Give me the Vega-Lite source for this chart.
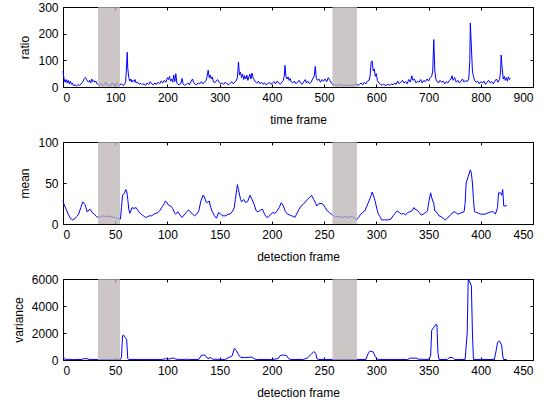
{
  "$schema": "https://vega.github.io/schema/vega-lite/v6.json",
  "padding": {"left": 11, "top": 0, "right": 5, "bottom": 2},
  "background": "white",
  "spacing": 9,
  "config": {
    "view": {"stroke": "black", "strokeWidth": 1},
    "axis": {
      "grid": false, "domain": false, "tickColor": "black", "tickSize": -3,
      "labelFont": "Liberation Sans", "labelFontSize": 12, "labelColor": "black",
      "titleFont": "Liberation Sans", "titleFontSize": 12, "titleFontWeight": "normal", "titleColor": "black",
      "labelPadding": 8, "titlePadding": 6
    },
    "axisBottom": {"titlePadding": 11}
  },
  "datasets": {
    "ratio": [
      {"frame":0,"value":60},{"frame":2,"value":30},{"frame":4,"value":18},{"frame":6,"value":28},{"frame":8,"value":15},{"frame":10,"value":25},{"frame":12,"value":12},{"frame":14,"value":22},{"frame":16,"value":10},{"frame":18,"value":15},{"frame":20,"value":5},{"frame":23,"value":8},{"frame":26,"value":4},{"frame":29,"value":9},{"frame":32,"value":6},{"frame":35,"value":12},{"frame":38,"value":20},{"frame":41,"value":32},{"frame":43,"value":36},{"frame":45,"value":28},{"frame":47,"value":22},{"frame":49,"value":18},{"frame":51,"value":25},{"frame":53,"value":15},{"frame":55,"value":30},{"frame":57,"value":20},{"frame":59,"value":24},{"frame":61,"value":18},{"frame":63,"value":22},{"frame":65,"value":12},{"frame":67,"value":10},{"frame":70,"value":6},{"frame":73,"value":14},{"frame":76,"value":5},{"frame":79,"value":8},{"frame":82,"value":18},{"frame":85,"value":6},{"frame":88,"value":9},{"frame":91,"value":4},{"frame":94,"value":16},{"frame":97,"value":7},{"frame":100,"value":10},{"frame":103,"value":17},{"frame":106,"value":5},{"frame":109,"value":8},{"frame":112,"value":12},{"frame":115,"value":5},{"frame":118,"value":10},{"frame":120,"value":20},{"frame":122,"value":90},{"frame":123,"value":130},{"frame":124,"value":70},{"frame":126,"value":35},{"frame":128,"value":22},{"frame":130,"value":30},{"frame":132,"value":18},{"frame":134,"value":25},{"frame":136,"value":20},{"frame":138,"value":28},{"frame":140,"value":15},{"frame":143,"value":18},{"frame":146,"value":10},{"frame":149,"value":14},{"frame":152,"value":8},{"frame":155,"value":12},{"frame":158,"value":6},{"frame":161,"value":15},{"frame":164,"value":9},{"frame":167,"value":20},{"frame":170,"value":12},{"frame":173,"value":8},{"frame":176,"value":15},{"frame":179,"value":10},{"frame":182,"value":18},{"frame":185,"value":12},{"frame":188,"value":22},{"frame":191,"value":15},{"frame":194,"value":25},{"frame":197,"value":18},{"frame":200,"value":35},{"frame":202,"value":28},{"frame":204,"value":40},{"frame":206,"value":22},{"frame":208,"value":30},{"frame":210,"value":18},{"frame":212,"value":45},{"frame":214,"value":20},{"frame":216,"value":50},{"frame":218,"value":15},{"frame":220,"value":10},{"frame":223,"value":8},{"frame":226,"value":15},{"frame":228,"value":32},{"frame":230,"value":12},{"frame":233,"value":6},{"frame":236,"value":10},{"frame":239,"value":15},{"frame":242,"value":8},{"frame":245,"value":20},{"frame":248,"value":30},{"frame":250,"value":18},{"frame":253,"value":10},{"frame":256,"value":8},{"frame":259,"value":15},{"frame":262,"value":12},{"frame":265,"value":20},{"frame":268,"value":12},{"frame":271,"value":18},{"frame":274,"value":25},{"frame":276,"value":40},{"frame":278,"value":63},{"frame":280,"value":35},{"frame":282,"value":45},{"frame":284,"value":30},{"frame":286,"value":38},{"frame":288,"value":20},{"frame":290,"value":15},{"frame":293,"value":22},{"frame":296,"value":28},{"frame":299,"value":18},{"frame":302,"value":12},{"frame":305,"value":15},{"frame":308,"value":10},{"frame":311,"value":18},{"frame":314,"value":12},{"frame":317,"value":8},{"frame":320,"value":14},{"frame":323,"value":20},{"frame":326,"value":12},{"frame":329,"value":18},{"frame":332,"value":25},{"frame":334,"value":35},{"frame":336,"value":94},{"frame":338,"value":45},{"frame":340,"value":55},{"frame":342,"value":35},{"frame":344,"value":48},{"frame":346,"value":28},{"frame":348,"value":42},{"frame":350,"value":30},{"frame":352,"value":45},{"frame":354,"value":25},{"frame":356,"value":38},{"frame":358,"value":48},{"frame":360,"value":30},{"frame":362,"value":52},{"frame":364,"value":35},{"frame":366,"value":28},{"frame":368,"value":20},{"frame":371,"value":15},{"frame":374,"value":22},{"frame":377,"value":12},{"frame":380,"value":18},{"frame":383,"value":10},{"frame":386,"value":15},{"frame":389,"value":8},{"frame":392,"value":12},{"frame":395,"value":18},{"frame":398,"value":10},{"frame":401,"value":14},{"frame":404,"value":20},{"frame":407,"value":12},{"frame":410,"value":22},{"frame":413,"value":15},{"frame":416,"value":10},{"frame":419,"value":18},{"frame":422,"value":25},{"frame":424,"value":45},{"frame":425,"value":81},{"frame":427,"value":40},{"frame":429,"value":30},{"frame":431,"value":38},{"frame":433,"value":25},{"frame":435,"value":32},{"frame":437,"value":20},{"frame":440,"value":15},{"frame":443,"value":22},{"frame":446,"value":12},{"frame":449,"value":18},{"frame":452,"value":25},{"frame":455,"value":15},{"frame":458,"value":10},{"frame":461,"value":20},{"frame":464,"value":28},{"frame":466,"value":15},{"frame":469,"value":22},{"frame":472,"value":12},{"frame":475,"value":18},{"frame":478,"value":30},{"frame":481,"value":40},{"frame":483,"value":77},{"frame":485,"value":35},{"frame":487,"value":25},{"frame":490,"value":30},{"frame":493,"value":18},{"frame":496,"value":28},{"frame":499,"value":22},{"frame":502,"value":30},{"frame":505,"value":20},{"frame":508,"value":35},{"frame":511,"value":25},{"frame":514,"value":15},{"frame":517,"value":8},{"frame":520,"value":10},{"frame":523,"value":5},{"frame":526,"value":8},{"frame":529,"value":6},{"frame":532,"value":10},{"frame":535,"value":5},{"frame":538,"value":8},{"frame":541,"value":6},{"frame":544,"value":9},{"frame":547,"value":5},{"frame":550,"value":7},{"frame":553,"value":5},{"frame":556,"value":8},{"frame":559,"value":10},{"frame":562,"value":12},{"frame":565,"value":5},{"frame":568,"value":10},{"frame":571,"value":15},{"frame":574,"value":8},{"frame":577,"value":18},{"frame":580,"value":12},{"frame":583,"value":22},{"frame":586,"value":25},{"frame":588,"value":40},{"frame":590,"value":92},{"frame":592,"value":98},{"frame":594,"value":60},{"frame":596,"value":68},{"frame":598,"value":40},{"frame":600,"value":50},{"frame":602,"value":24},{"frame":605,"value":15},{"frame":608,"value":10},{"frame":611,"value":6},{"frame":614,"value":12},{"frame":617,"value":5},{"frame":620,"value":8},{"frame":623,"value":10},{"frame":626,"value":6},{"frame":629,"value":12},{"frame":632,"value":8},{"frame":635,"value":15},{"frame":638,"value":10},{"frame":641,"value":22},{"frame":644,"value":12},{"frame":647,"value":18},{"frame":650,"value":25},{"frame":653,"value":15},{"frame":656,"value":20},{"frame":659,"value":12},{"frame":662,"value":28},{"frame":665,"value":18},{"frame":668,"value":42},{"frame":670,"value":25},{"frame":673,"value":30},{"frame":676,"value":15},{"frame":679,"value":22},{"frame":682,"value":18},{"frame":685,"value":28},{"frame":688,"value":15},{"frame":691,"value":25},{"frame":694,"value":20},{"frame":697,"value":30},{"frame":700,"value":22},{"frame":703,"value":35},{"frame":706,"value":40},{"frame":708,"value":60},{"frame":710,"value":178},{"frame":712,"value":60},{"frame":714,"value":30},{"frame":716,"value":22},{"frame":719,"value":15},{"frame":722,"value":25},{"frame":725,"value":18},{"frame":728,"value":22},{"frame":731,"value":12},{"frame":734,"value":20},{"frame":737,"value":15},{"frame":740,"value":25},{"frame":743,"value":30},{"frame":745,"value":42},{"frame":747,"value":25},{"frame":750,"value":35},{"frame":753,"value":18},{"frame":756,"value":25},{"frame":759,"value":15},{"frame":762,"value":22},{"frame":765,"value":30},{"frame":768,"value":18},{"frame":771,"value":25},{"frame":774,"value":20},{"frame":777,"value":30},{"frame":779,"value":100},{"frame":780,"value":240},{"frame":782,"value":150},{"frame":784,"value":60},{"frame":786,"value":40},{"frame":788,"value":25},{"frame":791,"value":18},{"frame":794,"value":22},{"frame":797,"value":12},{"frame":800,"value":20},{"frame":803,"value":15},{"frame":806,"value":22},{"frame":809,"value":10},{"frame":812,"value":18},{"frame":815,"value":25},{"frame":818,"value":15},{"frame":821,"value":20},{"frame":824,"value":12},{"frame":827,"value":22},{"frame":830,"value":30},{"frame":833,"value":18},{"frame":836,"value":28},{"frame":838,"value":60},{"frame":839,"value":120},{"frame":841,"value":70},{"frame":843,"value":30},{"frame":845,"value":40},{"frame":847,"value":25},{"frame":849,"value":35},{"frame":851,"value":22},{"frame":853,"value":38},{"frame":855,"value":28},{"frame":857,"value":32}
    ],
    "mean": [
      {"frame":0,"value":28},{"frame":1,"value":24},{"frame":3,"value":18},{"frame":5,"value":12},{"frame":7,"value":7},{"frame":9,"value":5},{"frame":11,"value":6},{"frame":13,"value":9},{"frame":15,"value":12},{"frame":17,"value":20},{"frame":19,"value":27},{"frame":21,"value":24},{"frame":22,"value":20},{"frame":23,"value":15},{"frame":25,"value":17},{"frame":26,"value":18},{"frame":28,"value":14},{"frame":30,"value":12},{"frame":32,"value":9},{"frame":34,"value":8},{"frame":36,"value":9},{"frame":38,"value":10},{"frame":40,"value":9},{"frame":42,"value":10},{"frame":44,"value":9},{"frame":46,"value":9},{"frame":48,"value":8},{"frame":50,"value":8},{"frame":52,"value":7},{"frame":54,"value":6},{"frame":55,"value":6},{"frame":56,"value":20},{"frame":57,"value":35},{"frame":59,"value":38},{"frame":60,"value":42},{"frame":61,"value":40},{"frame":62,"value":30},{"frame":63,"value":18},{"frame":64,"value":13},{"frame":65,"value":16},{"frame":66,"value":20},{"frame":68,"value":19},{"frame":70,"value":20},{"frame":71,"value":18},{"frame":73,"value":14},{"frame":75,"value":12},{"frame":77,"value":10},{"frame":79,"value":8},{"frame":81,"value":9},{"frame":83,"value":10},{"frame":85,"value":10},{"frame":87,"value":12},{"frame":89,"value":13},{"frame":91,"value":14},{"frame":93,"value":17},{"frame":95,"value":21},{"frame":97,"value":25},{"frame":98,"value":28},{"frame":99,"value":27},{"frame":101,"value":23},{"frame":103,"value":22},{"frame":105,"value":19},{"frame":107,"value":13},{"frame":108,"value":12},{"frame":110,"value":15},{"frame":112,"value":11},{"frame":114,"value":8},{"frame":116,"value":11},{"frame":118,"value":14},{"frame":120,"value":17},{"frame":122,"value":15},{"frame":124,"value":12},{"frame":126,"value":10},{"frame":128,"value":12},{"frame":130,"value":16},{"frame":132,"value":28},{"frame":134,"value":35},{"frame":135,"value":34},{"frame":137,"value":27},{"frame":138,"value":26},{"frame":140,"value":28},{"frame":141,"value":22},{"frame":143,"value":15},{"frame":145,"value":10},{"frame":147,"value":7},{"frame":149,"value":14},{"frame":151,"value":12},{"frame":153,"value":10},{"frame":156,"value":10},{"frame":158,"value":12},{"frame":160,"value":12},{"frame":162,"value":15},{"frame":164,"value":20},{"frame":165,"value":30},{"frame":167,"value":48},{"frame":168,"value":42},{"frame":170,"value":30},{"frame":171,"value":27},{"frame":173,"value":30},{"frame":175,"value":26},{"frame":177,"value":28},{"frame":179,"value":35},{"frame":181,"value":30},{"frame":183,"value":24},{"frame":185,"value":16},{"frame":187,"value":15},{"frame":189,"value":17},{"frame":191,"value":18},{"frame":193,"value":12},{"frame":195,"value":8},{"frame":197,"value":9},{"frame":199,"value":12},{"frame":201,"value":14},{"frame":203,"value":13},{"frame":205,"value":16},{"frame":207,"value":20},{"frame":209,"value":26},{"frame":211,"value":22},{"frame":213,"value":15},{"frame":215,"value":12},{"frame":217,"value":11},{"frame":219,"value":10},{"frame":221,"value":9},{"frame":222,"value":8},{"frame":224,"value":13},{"frame":226,"value":18},{"frame":228,"value":22},{"frame":230,"value":24},{"frame":232,"value":27},{"frame":234,"value":30},{"frame":236,"value":32},{"frame":238,"value":35},{"frame":240,"value":30},{"frame":242,"value":25},{"frame":243,"value":22},{"frame":245,"value":25},{"frame":247,"value":25},{"frame":249,"value":24},{"frame":251,"value":20},{"frame":253,"value":16},{"frame":255,"value":14},{"frame":257,"value":12},{"frame":259,"value":10},{"frame":261,"value":9},{"frame":264,"value":9},{"frame":267,"value":8},{"frame":270,"value":9},{"frame":273,"value":8},{"frame":276,"value":9},{"frame":279,"value":8},{"frame":281,"value":5},{"frame":283,"value":8},{"frame":285,"value":12},{"frame":287,"value":14},{"frame":289,"value":16},{"frame":291,"value":22},{"frame":293,"value":28},{"frame":295,"value":35},{"frame":296,"value":39},{"frame":298,"value":32},{"frame":299,"value":27},{"frame":301,"value":16},{"frame":302,"value":12},{"frame":304,"value":8},{"frame":305,"value":5},{"frame":308,"value":5},{"frame":311,"value":5},{"frame":314,"value":6},{"frame":316,"value":10},{"frame":318,"value":13},{"frame":320,"value":16},{"frame":322,"value":14},{"frame":324,"value":12},{"frame":326,"value":13},{"frame":328,"value":11},{"frame":330,"value":14},{"frame":332,"value":15},{"frame":334,"value":16},{"frame":336,"value":20},{"frame":337,"value":18},{"frame":339,"value":17},{"frame":341,"value":14},{"frame":343,"value":11},{"frame":345,"value":12},{"frame":347,"value":14},{"frame":349,"value":16},{"frame":350,"value":25},{"frame":352,"value":38},{"frame":353,"value":32},{"frame":355,"value":25},{"frame":356,"value":16},{"frame":358,"value":14},{"frame":360,"value":10},{"frame":362,"value":9},{"frame":364,"value":7},{"frame":366,"value":5},{"frame":368,"value":7},{"frame":370,"value":10},{"frame":372,"value":12},{"frame":374,"value":15},{"frame":376,"value":14},{"frame":378,"value":12},{"frame":380,"value":13},{"frame":382,"value":14},{"frame":384,"value":15},{"frame":385,"value":25},{"frame":386,"value":50},{"frame":388,"value":58},{"frame":390,"value":66},{"frame":391,"value":62},{"frame":392,"value":50},{"frame":393,"value":30},{"frame":394,"value":15},{"frame":396,"value":14},{"frame":398,"value":13},{"frame":400,"value":12},{"frame":402,"value":12},{"frame":404,"value":12},{"frame":406,"value":13},{"frame":408,"value":14},{"frame":410,"value":15},{"frame":412,"value":15},{"frame":414,"value":12},{"frame":416,"value":20},{"frame":417,"value":38},{"frame":419,"value":38},{"frame":420,"value":35},{"frame":421,"value":42},{"frame":422,"value":22},{"frame":424,"value":22},{"frame":425,"value":23}
    ],
    "variance": [
      {"frame":0,"value":400},{"frame":1,"value":100},{"frame":2,"value":50},{"frame":10,"value":40},{"frame":18,"value":40},{"frame":20,"value":100},{"frame":23,"value":100},{"frame":25,"value":40},{"frame":34,"value":40},{"frame":55,"value":40},{"frame":56,"value":200},{"frame":57,"value":1800},{"frame":58,"value":1850},{"frame":59,"value":1700},{"frame":60,"value":1650},{"frame":61,"value":1500},{"frame":62,"value":100},{"frame":63,"value":40},{"frame":95,"value":40},{"frame":98,"value":100},{"frame":100,"value":60},{"frame":104,"value":120},{"frame":106,"value":150},{"frame":108,"value":60},{"frame":115,"value":40},{"frame":118,"value":60},{"frame":121,"value":40},{"frame":130,"value":40},{"frame":132,"value":300},{"frame":134,"value":370},{"frame":136,"value":350},{"frame":138,"value":150},{"frame":140,"value":100},{"frame":141,"value":220},{"frame":143,"value":60},{"frame":155,"value":40},{"frame":162,"value":300},{"frame":164,"value":860},{"frame":166,"value":700},{"frame":168,"value":400},{"frame":170,"value":200},{"frame":174,"value":180},{"frame":178,"value":200},{"frame":181,"value":220},{"frame":183,"value":100},{"frame":185,"value":40},{"frame":200,"value":40},{"frame":206,"value":100},{"frame":208,"value":330},{"frame":211,"value":370},{"frame":214,"value":330},{"frame":216,"value":100},{"frame":218,"value":40},{"frame":230,"value":40},{"frame":234,"value":150},{"frame":238,"value":450},{"frame":240,"value":620},{"frame":242,"value":500},{"frame":243,"value":100},{"frame":245,"value":40},{"frame":290,"value":40},{"frame":292,"value":450},{"frame":294,"value":670},{"frame":297,"value":600},{"frame":299,"value":250},{"frame":301,"value":60},{"frame":303,"value":40},{"frame":330,"value":40},{"frame":333,"value":150},{"frame":336,"value":130},{"frame":338,"value":150},{"frame":340,"value":60},{"frame":350,"value":40},{"frame":352,"value":300},{"frame":353,"value":2200},{"frame":355,"value":2420},{"frame":357,"value":2640},{"frame":358,"value":2600},{"frame":359,"value":500},{"frame":360,"value":40},{"frame":368,"value":40},{"frame":370,"value":200},{"frame":373,"value":180},{"frame":375,"value":40},{"frame":385,"value":40},{"frame":387,"value":2000},{"frame":388,"value":6000},{"frame":389,"value":5850},{"frame":390,"value":5700},{"frame":391,"value":5500},{"frame":392,"value":2000},{"frame":393,"value":40},{"frame":413,"value":40},{"frame":415,"value":800},{"frame":416,"value":1300},{"frame":418,"value":1400},{"frame":420,"value":1100},{"frame":421,"value":300},{"frame":422,"value":40},{"frame":425,"value":40}
    ],
    "shadeT": [{"start":67,"end":109,"lo":0,"hi":300},{"start":516,"end":563,"lo":0,"hi":300}],
    "shadeM": [{"start":33.5,"end":54.6,"lo":0,"hi":100},{"start":258,"end":281.5,"lo":0,"hi":100}],
    "shadeV": [{"start":33.5,"end":54.6,"lo":0,"hi":6000},{"start":258,"end":281.5,"lo":0,"hi":6000}]
  },
  "vconcat": [
    {
      "width": 470, "height": 80,
      "resolve": {"axis": {"x": "independent", "y": "independent"}},
      "layer": [
        {
          "data": {"name": "ratio"},
          "mark": {"type": "line", "color": "#0000ff", "strokeWidth": 1},
          "encoding": {
            "x": {"field": "frame", "type": "quantitative", "scale": {"domain": [0, 900], "nice": false}, "axis": {"title": "time frame", "values": [0,100,200,300,400,500,600,700,800,900]}},
            "y": {"field": "value", "type": "quantitative", "scale": {"domain": [0, 300], "nice": false}, "axis": {"title": "ratio", "values": [0,100,200,300]}}
          }
        },
        {
          "data": {"name": "shadeT"},
          "mark": {"type": "rect", "color": "#bbb3b3", "opacity": 0.75},
          "encoding": {
            "x": {"field": "start", "type": "quantitative", "axis": {"orient": "top", "labels": false, "title": null, "values": [0,100,200,300,400,500,600,700,800,900]}},
            "x2": {"field": "end"},
            "y": {"field": "lo", "type": "quantitative", "axis": {"orient": "right", "labels": false, "title": null, "values": [0,100,200,300]}},
            "y2": {"field": "hi"}
          }
        }
      ]
    },
    {
      "width": 470, "height": 82,
      "resolve": {"axis": {"x": "independent", "y": "independent"}},
      "layer": [
        {
          "data": {"name": "mean"},
          "mark": {"type": "line", "color": "#0000ff", "strokeWidth": 1},
          "encoding": {
            "x": {"field": "frame", "type": "quantitative", "scale": {"domain": [0, 450], "nice": false}, "axis": {"title": "detection frame", "values": [0,50,100,150,200,250,300,350,400,450]}},
            "y": {"field": "value", "type": "quantitative", "scale": {"domain": [0, 100], "nice": false}, "axis": {"title": "mean", "values": [0,50,100]}}
          }
        },
        {
          "data": {"name": "shadeM"},
          "mark": {"type": "rect", "color": "#bbb3b3", "opacity": 0.75},
          "encoding": {
            "x": {"field": "start", "type": "quantitative", "axis": {"orient": "top", "labels": false, "title": null, "values": [0,50,100,150,200,250,300,350,400,450]}},
            "x2": {"field": "end"},
            "y": {"field": "lo", "type": "quantitative", "axis": {"orient": "right", "labels": false, "title": null, "values": [0,50,100]}},
            "y2": {"field": "hi"}
          }
        }
      ]
    },
    {
      "width": 470, "height": 81,
      "resolve": {"axis": {"x": "independent", "y": "independent"}},
      "layer": [
        {
          "data": {"name": "variance"},
          "mark": {"type": "line", "color": "#0000ff", "strokeWidth": 1, "clip": true},
          "encoding": {
            "x": {"field": "frame", "type": "quantitative", "scale": {"domain": [0, 450], "nice": false}, "axis": {"title": "detection frame", "values": [0,50,100,150,200,250,300,350,400,450]}},
            "y": {"field": "value", "type": "quantitative", "scale": {"domain": [0, 6000], "nice": false}, "axis": {"title": "variance", "values": [0,2000,4000,6000], "format": "d"}}
          }
        },
        {
          "data": {"name": "shadeV"},
          "mark": {"type": "rect", "color": "#bbb3b3", "opacity": 0.75},
          "encoding": {
            "x": {"field": "start", "type": "quantitative", "axis": {"orient": "top", "labels": false, "title": null, "values": [0,50,100,150,200,250,300,350,400,450]}},
            "x2": {"field": "end"},
            "y": {"field": "lo", "type": "quantitative", "axis": {"orient": "right", "labels": false, "title": null, "values": [0,2000,4000,6000]}},
            "y2": {"field": "hi"}
          }
        }
      ]
    }
  ]
}
